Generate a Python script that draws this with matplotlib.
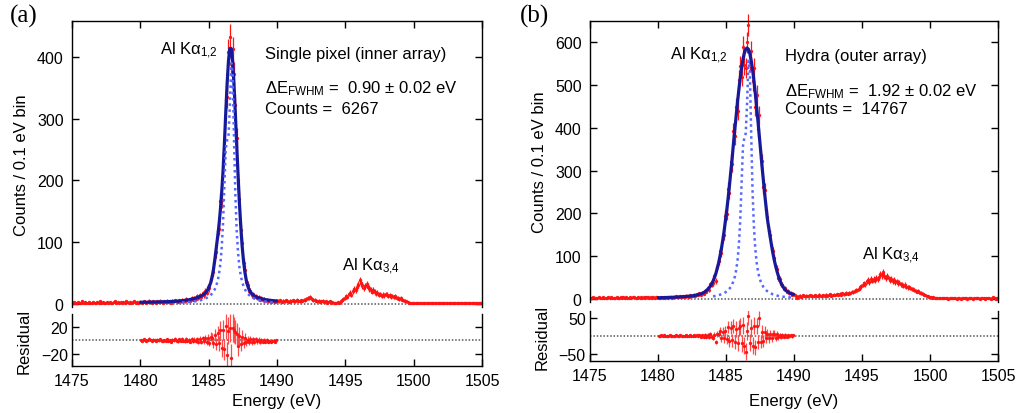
import numpy as np
import matplotlib
matplotlib.use("Agg")
import matplotlib.pyplot as plt

plt.rcParams['font.family'] = ['Liberation Sans', 'DejaVu Sans']
plt.rcParams['mathtext.fontset'] = 'custom'
plt.rcParams['mathtext.rm'] = 'Liberation Sans'
plt.rcParams['mathtext.it'] = 'Liberation Sans:italic'

# 0.1 eV bins, centres 1475.05 ... 1504.95
energy = np.round(1475.05 + 0.1 * np.arange(300), 2)
fit_energy = energy[50:150]          # fit range 1480-1490 eV
xticks = [1475, 1480, 1485, 1490, 1495, 1500, 1505]

# ---- (a) single pixel, inner array ----
counts_a = [
    2, 3, 2, 1, 3, 2, 2, 4, 2, 3, 1, 2, 3, 2, 2, 3, 1, 2, 3, 2,
    4, 2, 3, 2, 1, 3, 2, 3, 2, 2, 3, 4, 2, 3, 2, 3, 1, 3, 2, 4,
    3, 2, 3, 2, 3, 4, 2, 3, 2, 3,
    3, 2, 4, 3, 2, 3, 5, 3, 2, 4, 3, 2, 4, 3, 5, 3, 2, 4, 3, 5,
    3, 4, 2, 5, 4, 6, 4, 3, 6, 4, 7, 5, 4, 8, 6, 7, 5, 9, 7, 10,
    8, 12, 9, 14, 11, 17, 14, 21, 18, 27,
    25, 40, 47, 52, 80, 84, 118, 122, 166, 168,
    230, 245, 330, 335, 408, 432, 388, 412, 372, 322,
    268, 200, 170, 120, 99, 66, 55, 36, 31, 21,
    21, 14, 16, 11, 13, 9, 11, 7, 9, 6,
    8, 5, 7, 4, 5, 3, 5, 4, 3, 5,
    5, 4, 6, 3, 5, 4, 6, 5, 3, 5,
    4, 6, 5, 4, 7, 5, 4, 6, 5, 7,
    6, 8, 10, 9, 11, 8, 6, 7, 5, 4,
    5, 3, 4, 5, 3, 4, 2, 3, 4, 2,
    3, 2, 1, 2, 3, 2, 4, 6, 8, 10,
    13, 11, 16, 18, 15, 21, 24, 22, 28, 31,
    38, 34, 30, 26, 29, 32, 28, 25, 23, 20,
    22, 19, 17, 18, 15, 16, 13, 15, 14, 16,
    15, 13, 14, 12, 13, 11, 12, 10, 9, 8,
    9, 7, 6, 5, 4, 3, 2, 2, 1, 2,
    1, 2, 1, 1, 2, 1, 2, 1, 1, 2,
    1, 1, 2, 1, 2, 1, 1, 2, 1, 1,
    2, 1, 1, 2, 1, 2, 1, 1, 2, 1,
    1, 2, 1, 1, 2, 1, 1, 2, 1, 2,
    1, 1, 2, 1, 2, 1, 2, 1, 1, 2,
]
fit_a = [
    2.7, 2.7, 2.7, 2.8, 2.8, 2.8, 2.9, 2.9, 3.0, 3.0,
    3.0, 3.1, 3.1, 3.2, 3.2, 3.3, 3.4, 3.4, 3.5, 3.6,
    3.7, 3.8, 3.9, 4.0, 4.1, 4.2, 4.4, 4.5, 4.7, 4.9,
    5.1, 5.4, 5.7, 6.0, 6.3, 6.7, 7.2, 7.7, 8.2, 8.8,
    9.5, 10.2, 10.9, 11.8, 12.8, 14.1, 15.5, 17.5, 20.1, 23.5,
    28.5, 34.5, 43.5, 55.5, 71.5, 89.5, 107.5, 126.5, 150.5, 179.5,
    214.5, 258.5, 309.5, 356.5, 393.5, 413.5, 413.5, 393.5, 356.5, 309.5,
    258.5, 209.0, 163.5, 125.5, 93.5, 69.5, 51.5, 38.5, 29.8, 23.7,
    19.5, 16.6, 14.5, 12.9, 11.7, 10.7, 9.9, 9.1, 8.5, 8.0,
    7.5, 7.0, 6.6, 6.3, 6.0, 5.7, 5.4, 5.2, 5.0, 4.8,
]
lines_a = [   # natural line shape, 1483.05-1489.95 eV
    2.2, 2.4, 2.5, 2.7, 2.9, 3.1, 3.3, 3.5, 3.8, 4.1,
    4.3, 4.8, 5.2, 5.7, 6.2, 6.9, 7.7, 8.5, 9.7, 10.9,
    12.5, 14.4, 16.8, 19.6, 23.8, 29.4, 36.4, 47.6, 63.7, 89.6,
    130, 192, 251, 265, 271, 320, 390, 375, 272, 179,
    119, 83, 60, 45.5, 35.7, 28.7, 23.8, 19.6, 16.8, 14.5,
    12.5, 11.0, 9.7, 8.6, 7.6, 6.9, 6.2, 5.6, 5.1, 4.6,
    4.3, 3.9, 3.6, 3.4, 3.2, 2.9, 2.7, 2.5, 2.4, 2.2,
]

# ---- (b) Hydra, outer array ----
counts_b = [
    3, 2, 4, 3, 2, 3, 5, 3, 2, 4, 3, 3, 2, 4, 3, 5, 3, 2, 3, 4,
    3, 2, 4, 3, 5, 3, 4, 2, 3, 4, 3, 5, 4, 3, 2, 4, 3, 5, 3, 4,
    3, 4, 5, 3, 4, 2, 4, 3, 5, 4,
    3, 2, 4, 3, 5, 3, 4, 2, 5, 4, 3, 5, 4, 6, 4, 5, 7, 4, 6, 5,
    8, 6, 5, 9, 7, 6, 10, 8, 11, 9, 13, 10, 15, 12, 19, 17, 26, 22, 34, 33,
    37, 53, 42, 76, 88, 112, 108, 147, 149, 195,
    198, 258, 249, 320, 315, 392, 380, 448, 440, 512,
    545, 520, 590, 548, 540, 600, 640, 555, 580, 510,
    540, 450, 478, 398, 430, 330, 322, 262, 256, 208,
    192, 158, 150, 118, 112, 96, 72, 70, 50, 47,
    34, 33, 24, 25, 17, 18, 13, 15, 10, 12,
    9, 6, 3, 7, 8, 5, 9, 7, 8, 6,
    7, 9, 6, 8, 7, 9, 6, 8, 10, 7,
    8, 9, 7, 10, 8, 9, 11, 8, 9, 10,
    9, 11, 10, 12, 9, 13, 11, 12, 14, 12,
    15, 13, 17, 16, 19, 21, 20, 24, 27, 30,
    33, 37, 35, 41, 44, 40, 46, 43, 47, 45,
    49, 46, 52, 58, 55, 62, 54, 50, 53, 48,
    45, 47, 42, 44, 39, 41, 37, 38, 35, 33,
    31, 33, 29, 27, 28, 25, 23, 24, 20, 19,
    17, 18, 15, 14, 12, 10, 9, 7, 6, 4,
    4, 3, 4, 2, 3, 2, 3, 2, 3, 2,
    2, 3, 2, 1, 3, 2, 2, 3, 2, 1,
    2, 3, 1, 2, 2, 3, 2, 1, 2, 3,
    2, 1, 2, 3, 2, 2, 1, 2, 3, 2,
    1, 2, 3, 2, 1, 2, 4, 2, 1, 3,
]
fit_b = [
    2.9, 3.0, 3.1, 3.2, 3.3, 3.4, 3.5, 3.7, 3.8, 3.9,
    4.0, 4.2, 4.3, 4.5, 4.7, 4.9, 5.0, 5.2, 5.5, 5.7,
    6.0, 6.2, 6.5, 6.8, 7.2, 7.6, 8.1, 8.7, 9.3, 10.1,
    11.0, 12.0, 13.2, 14.8, 16.8, 19.5, 22.5, 26.0, 30.0, 35.5,
    42, 50, 59, 71, 83, 99, 115, 135, 156, 181,
    206, 234, 264, 297, 328, 364, 397, 429, 461, 491,
    518, 541, 561, 575, 584, 587, 584, 574, 558, 537,
    512, 482, 450, 416, 381, 346, 310, 277, 244, 214,
    186, 165, 145, 125, 107, 91, 77, 65, 54, 45,
    37, 31, 26, 22, 19, 16.5, 14.5, 13.0, 11.8, 10.8,
]
lines_b = [   # natural line shape, 1484.05-1489.95 eV
    6.2, 6.8, 7.4, 8.1, 8.9, 9.9, 11.0, 12.2, 13.8, 15.6,
    17.8, 20.6, 24, 28, 34, 42, 52, 68, 91, 128,
    186, 274, 358, 378, 387, 457, 557, 536, 389, 255,
    170, 119, 86, 65, 51, 41, 34, 28, 24, 20.7,
    17.9, 15.7, 13.9, 12.3, 10.9, 9.8, 8.8, 8.0, 7.3, 6.6,
    6.1, 5.6, 5.2, 4.8, 4.5, 4.2, 3.9, 3.6, 3.4, 3.2,
]

RED = '#ff1414'
NAVY = '#16199a'
LIGHT = '#5566ff'
W, H = 1019, 414

fig = plt.figure(figsize=(W / 100, H / 100), dpi=100)


def add_ax(l, t, r, b):
    return fig.add_axes([l / W, 1 - b / H, (r - l) / W, (b - t) / H])


def ftext(x, y, s, **kw):
    kw.setdefault('va', 'center')
    kw.setdefault('fontsize', 12)
    fig.text(x / W, 1 - y / H, s, **kw)


panels = [
    dict(counts=counts_a, fit=fit_a, lines=lines_a, lstart=80,
         main=(72, 22, 482, 308), res=(72, 315, 482, 367),
         ylim=(-5, 458), yticks=[0, 100, 200, 300, 400],
         rlim=(-38, 39), rticks=[-20, 20]),
    dict(counts=counts_b, fit=fit_b, lines=lines_b, lstart=90,
         main=(590, 22, 998, 303), res=(590, 312, 998, 362),
         ylim=(-7, 650), yticks=[0, 100, 200, 300, 400, 500, 600],
         rlim=(-70, 69), rticks=[-50, 50]),
]

for p in panels:
    counts = np.array(p['counts'], dtype=float)
    fit = np.array(p['fit'])
    err = np.sqrt(np.maximum(counts, 1))

    ax = add_ax(*p['main'])
    ax.axhline(0, color='#555555', lw=1.1, ls=(0, (1, 1.2)), zorder=1)
    ax.errorbar(energy, counts, yerr=err, fmt='o', ms=2.4, mew=0,
                color=RED, ecolor=RED, elinewidth=0.9, capsize=0,
                zorder=2, clip_on=False)
    ax.plot(fit_energy, fit, color=NAVY, lw=2.3, zorder=3)
    ax.plot(energy[p['lstart']:150], p['lines'], color=LIGHT, lw=1.8,
            ls=(0, (1, 1.4)), zorder=4)
    ax.set_xlim(1475, 1505)
    ax.set_ylim(*p['ylim'])
    ax.set_xticks(xticks)
    ax.set_yticks(p['yticks'])
    ax.spines['bottom'].set_visible(False)
    ax.tick_params(axis='x', bottom=False, top=True, labelbottom=False,
                   direction='in', length=5, width=1)
    ax.tick_params(axis='y', left=True, right=True, direction='in',
                   length=5, width=1, labelsize=11.5, pad=6)

    rax = add_ax(*p['res'])
    resid = counts[50:150] - fit
    rax.axhline(0, color='#555555', lw=1.1, ls=(0, (1, 1.2)), zorder=1)
    rax.errorbar(fit_energy, resid, yerr=err[50:150], fmt='o', ms=2.4,
                 mew=0, color=RED, ecolor='#ff4a4a', elinewidth=0.9,
                 capsize=0, zorder=2)
    rax.set_xlim(1475, 1505)
    rax.set_ylim(*p['rlim'])
    rax.set_xticks(xticks)
    rax.set_yticks(p['rticks'])
    rax.spines['top'].set_visible(False)
    rax.tick_params(axis='x', direction='in', length=5, width=1,
                    labelsize=11.5, pad=5)
    rax.tick_params(axis='y', left=True, right=True, direction='in',
                    length=5, width=1, labelsize=11.5, pad=3)
    for a in (ax, rax):
        for s in a.spines.values():
            s.set_linewidth(1)

# axis labels
ftext(22, 165, 'Counts / 0.1 eV bin', rotation=90, ha='center')
ftext(24, 341, 'Residual', rotation=90, ha='center')
ftext(277, 402, 'Energy (eV)', ha='center')
ftext(540, 162, 'Counts / 0.1 eV bin', rotation=90, ha='center')
ftext(542, 337, 'Residual', rotation=90, ha='center')
ftext(794, 402, 'Energy (eV)', ha='center')

# panel labels
ftext(10, 16, '(a)', family='Liberation Serif', fontsize=18)
ftext(520, 16, '(b)', family='Liberation Serif', fontsize=18)

# annotations (a)
ftext(160, 51, 'Al K\u03b1$_{1{,}2}$')
ftext(265, 55, 'Single pixel (inner array)')
ftext(265, 89, '\u0394E$_{\\mathrm{FWHM}}$ =  0.90 \u00b1 0.02 eV')
ftext(265, 109, 'Counts =  6267')
ftext(342, 267, 'Al K\u03b1$_{3{,}4}$')

# annotations (b)
ftext(670, 56, 'Al K\u03b1$_{1{,}2}$')
ftext(785, 57, 'Hydra (outer array)')
ftext(785, 92, '\u0394E$_{\\mathrm{FWHM}}$ =  1.92 \u00b1 0.02 eV')
ftext(785, 109, 'Counts =  14767')
ftext(862, 256, 'Al K\u03b1$_{3{,}4}$')

fig.savefig('out.png', dpi=100)
